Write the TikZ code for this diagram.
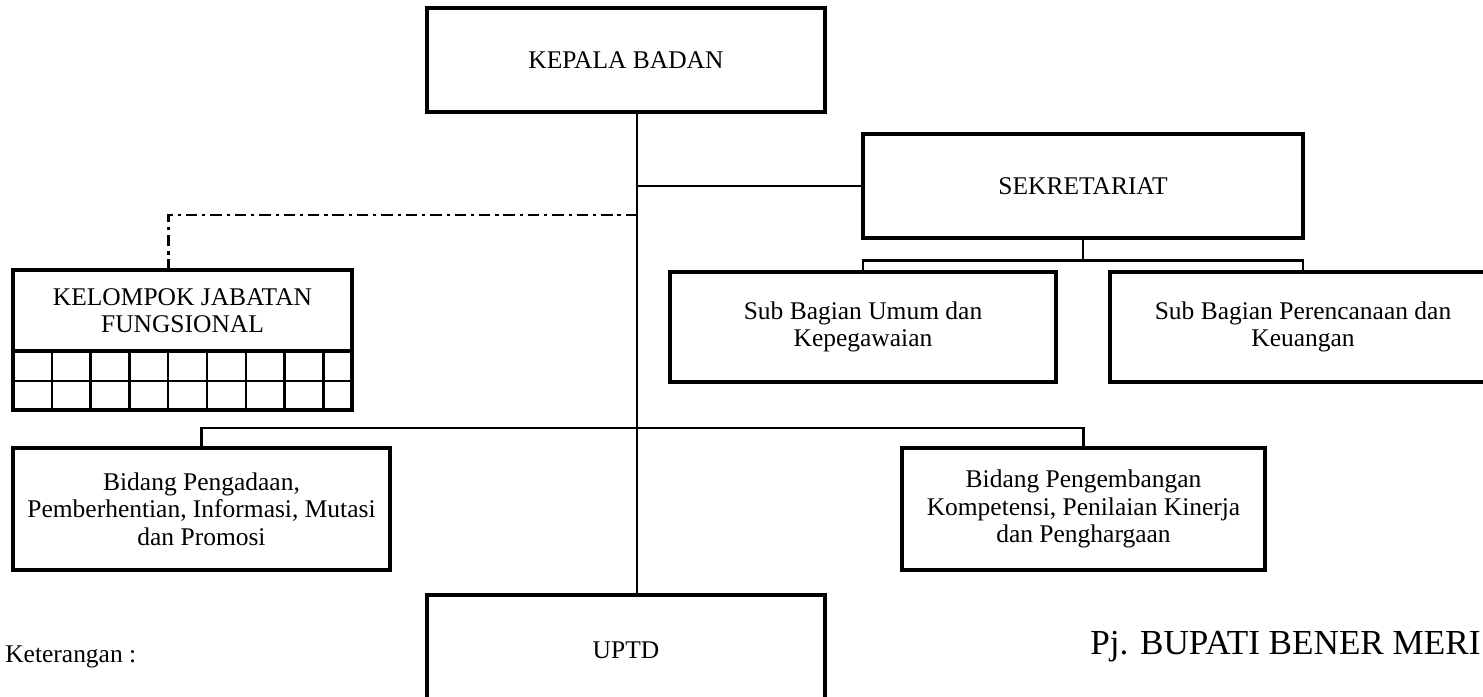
\documentclass[tikz,border=0pt]{standalone}
\usepackage{fontspec}
\setmainfont{Liberation Serif}
\begin{document}
\begin{tikzpicture}[font=\fontsize{14.5}{15.6}\selectfont,
  unit/.style={draw=black,line width=1.8pt,align=center,inner sep=2pt},
  link/.style={line width=1.4pt},
  fungsional/.style={line width=1.6pt,dash pattern=on 6.5pt off 2.8pt on 1.8pt off 2.8pt}]
\useasboundingbox (0,0) rectangle (29.66,13.94);
\coordinate (trunk) at (12.74,0);
\node[unit,minimum width=7.96cm,minimum height=2.08cm] (kepala) at (12.52,12.74) {KEPALA BADAN};
\node[unit,minimum width=8.8cm,minimum height=2.08cm] (sekretariat) at (21.66,10.22) {SEKRETARIAT};
\node[unit,minimum width=6.78cm,minimum height=1.62cm] (kjf) at (3.65,7.73) {KELOMPOK JABATAN\\FUNGSIONAL};
\node[unit,minimum width=7.72cm,minimum height=2.2cm] (subumum) at (17.26,7.4) {Sub Bagian Umum dan\\Kepegawaian};
\node[unit,minimum width=7.72cm,minimum height=2.2cm] (subren) at (26.06,7.4) {Sub Bagian Perencanaan dan\\Keuangan};
\node[unit,minimum width=7.54cm,minimum height=2.44cm] (pengadaan) at (4.03,3.76) {Bidang Pengadaan,\\Pemberhentian, Informasi, Mutasi\\dan Promosi};
\node[unit,minimum width=7.26cm,minimum height=2.44cm] (pengembangan) at (21.67,3.76) {Bidang Pengembangan\\Kompetensi, Penilaian Kinerja\\dan Penghargaan};
\node[unit,minimum width=7.96cm,minimum height=2.2cm] (uptd) at (12.52,0.94) {UPTD};
% kotak jabatan fungsional
\draw[line width=1.8pt] (0.26,5.74) rectangle (7.04,6.92);
\draw[link] (0.26,6.32) -- (7.04,6.32);
\foreach \i in {1,...,8}
  \draw[link] (0.26+\i*0.776,5.74) -- (0.26+\i*0.776,6.92);
% garis komando
\draw[link] (kepala.south -| trunk) -- (uptd.north -| trunk);
\draw[link] (sekretariat.west) -- (sekretariat.west -| trunk);
\draw[link] (sekretariat.south) -- ++(0,-0.42) coordinate (sekbus);
\draw[link] (subumum.north) |- (sekbus) -| (subren.north);
\coordinate (bidbus) at (12.74,5.38);
\draw[link] (pengadaan.north) |- (bidbus) -| (pengembangan.north);
% garis koordinasi
\coordinate (jf) at (3.37,9.64);
\draw[fungsional] (trunk |- jf) -- (jf) -- (jf |- kjf.north);
\node[anchor=base west,inner sep=0pt] (ket) at (0.1,0.68) {Keterangan :};
\node[anchor=base west,inner sep=0pt,font=\fontsize{20}{24}\selectfont] (bupati) at (21.8,0.84) {Pj. BUPATI BENER MERI};
\end{tikzpicture}
\end{document}
